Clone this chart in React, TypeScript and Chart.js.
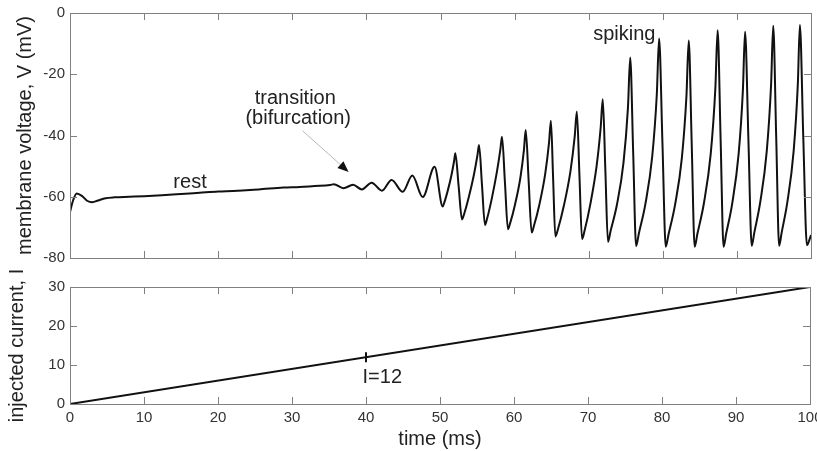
import React, { useEffect, useRef } from 'react';
import { Chart, registerables } from 'chart.js';

Chart.register(...registerables);

// ---------- data ----------
const timeMs = [
  0, 0.4, 0.9, 1.6, 2.3, 3.0, 3.8, 4.8, 6.0, 8.0, 10.0, 12.4, 15.0, 17.5, 20.0, 22.0, 24.3, 26.0,
  28.8, 31.0, 33.0, 35.1, 35.6, 36.9, 38.2, 39.4, 40.7, 42.1, 43.4, 44.9, 46.2, 47.6, 49.2,
  50.3, 50.5, 50.98, 51.49, 51.83, 52.0, 52.45,
  52.9, 53.18, 53.82, 54.51, 54.97, 55.2, 55.6,
  56.0, 56.28, 56.92, 57.61, 58.07, 58.3, 58.7,
  59.1, 59.39, 60.06, 60.78, 61.26, 61.5, 61.9,
  62.3, 62.61, 63.34, 64.12, 64.64, 64.9, 65.2,
  65.5, 65.85, 66.66, 67.53, 68.11, 68.4, 68.75,
  69.1, 69.44, 70.22, 71.06, 71.62, 71.9, 72.25,
  72.6, 72.96, 73.8, 74.7, 75.3, 75.6, 76.0,
  76.4, 76.77, 77.64, 78.57, 79.19, 79.5, 79.95,
  80.4, 80.77, 81.64, 82.57, 83.19, 83.5, 83.9,
  84.3, 84.67, 85.54, 86.47, 87.09, 87.4, 87.8,
  88.2, 88.55, 89.36, 90.23, 90.81, 91.1, 91.55,
  92.0, 92.35, 93.16, 94.03, 94.61, 94.9, 95.3,
  95.7, 96.04, 96.82, 97.66, 98.22, 98.5, 98.95,
  99.45, 100,
];

const voltageMv = [
  -65.0, -61.3, -58.9, -59.7, -61.3, -61.8, -61.2, -60.5, -60.2, -60.0, -59.8, -59.5, -59.1, -58.7, -58.3, -58.1, -57.8, -57.5,
  -57.0, -56.8, -56.5, -56.2, -55.9, -57.2, -56.1, -57.6, -55.4, -58.0, -54.5, -58.4, -53.1, -60.1, -50.2,
  -63.2, -62.0, -58.0, -52.8, -48.4, -45.8, -56.6,
  -67.4, -65.7, -60.1, -52.8, -46.7, -43.1, -56.2,
  -69.2, -67.2, -60.6, -51.9, -44.7, -40.4, -55.5,
  -70.6, -68.7, -62.5, -53.8, -44.7, -38.2, -55.0,
  -71.7, -69.5, -62.6, -52.7, -42.5, -35.2, -54.1,
  -73.0, -70.6, -62.8, -51.8, -40.4, -32.2, -53.0,
  -73.8, -71.1, -62.4, -50.1, -37.3, -28.2, -51.5,
  -74.7, -71.1, -62.7, -48.8, -30.8, -14.5, -45.3,
  -76.1, -72.0, -62.5, -46.9, -26.6, -8.3, -42.3,
  -76.3, -72.3, -62.8, -47.4, -27.2, -9.0, -42.6,
  -76.3, -72.1, -62.2, -45.9, -24.7, -5.6, -41.0,
  -76.3, -72.1, -62.3, -46.1, -25.1, -6.1, -41.0,
  -76.0, -71.7, -61.6, -45.1, -23.6, -4.2, -40.1,
  -76.0, -71.7, -61.6, -45.0, -23.4, -3.9, -39.9,
  -75.8, -72.5,
];

const currentTimeMs = [0, 100];
const currentValues = [0, 30];

const markerTimeMs = [40];
const markerCurrent = [12];

const timeTicks = [0, 10, 20, 30, 40, 50, 60, 70, 80, 90, 100];
const voltageTicks = [-80, -60, -40, -20, 0];
const currentTicks = [0, 10, 20, 30];

// ---------- styling ----------
const FONT = "'Liberation Sans', Arial, Helvetica, sans-serif";
const TEXT = '#222';
const TICK_TEXT = '#333';
const BOX = '#808080';

type Note = { text: string; x: number; y: number };
type Arrow = { x0: number; y0: number; x1: number; y1: number };

const voltageNotes: Note[] = [
  { text: 'rest', x: 16.2, y: -55.5 },
  { text: 'transition', x: 30.4, y: -27.8 },
  { text: '(bifurcation)', x: 30.8, y: -34.6 },
  { text: 'spiking', x: 74.8, y: -6.9 },
];
const voltageArrows: Arrow[] = [{ x0: 31.4, y0: -38.5, x1: 37.6, y1: -51.9 }];
const currentNotes: Note[] = [{ text: 'I=12', x: 42.2, y: 6.7 }];

const boxPlugin = {
  id: 'boxTicks',
  afterDatasetsDraw(chart: any) {
    const { ctx, chartArea: a, scales } = chart;
    const xs = scales.x;
    const ys = scales.y;
    const L = 7;
    ctx.save();
    ctx.strokeStyle = BOX;
    ctx.lineWidth = 1;
    ctx.strokeRect(Math.round(a.left) + 0.5, Math.round(a.top) + 0.5, Math.round(a.right - a.left), Math.round(a.bottom - a.top));
    ctx.beginPath();
    for (const t of xs.ticks) {
      if (t.value <= xs.min || t.value >= xs.max) continue;
      const px = Math.round(xs.getPixelForValue(t.value)) + 0.5;
      ctx.moveTo(px, a.bottom);
      ctx.lineTo(px, a.bottom - L);
      ctx.moveTo(px, a.top);
      ctx.lineTo(px, a.top + L);
    }
    for (const t of ys.ticks) {
      if (t.value <= ys.min || t.value >= ys.max) continue;
      const py = Math.round(ys.getPixelForValue(t.value)) + 0.5;
      ctx.moveTo(a.left, py);
      ctx.lineTo(a.left + L, py);
      ctx.moveTo(a.right, py);
      ctx.lineTo(a.right - L, py);
    }
    ctx.stroke();
    ctx.restore();
  },
};

function notesPlugin(notes: Note[], arrows: Arrow[]) {
  return {
    id: 'notes',
    afterDatasetsDraw(chart: any) {
      const { ctx, scales } = chart;
      const xs = scales.x;
      const ys = scales.y;
      ctx.save();
      ctx.font = `20px ${FONT}`;
      ctx.fillStyle = TEXT;
      ctx.textAlign = 'center';
      ctx.textBaseline = 'middle';
      for (const n of notes) {
        ctx.fillText(n.text, xs.getPixelForValue(n.x), ys.getPixelForValue(n.y));
      }
      for (const ar of arrows) {
        const x0 = xs.getPixelForValue(ar.x0);
        const y0 = ys.getPixelForValue(ar.y0);
        const x1 = xs.getPixelForValue(ar.x1);
        const y1 = ys.getPixelForValue(ar.y1);
        const ang = Math.atan2(y1 - y0, x1 - x0);
        const hl = 11;
        const hw = 4.5;
        const bx = x1 - hl * Math.cos(ang);
        const by = y1 - hl * Math.sin(ang);
        ctx.strokeStyle = '#b8b8b8';
        ctx.lineWidth = 1;
        ctx.beginPath();
        ctx.moveTo(x0, y0);
        ctx.lineTo(bx, by);
        ctx.stroke();
        ctx.fillStyle = '#111';
        ctx.beginPath();
        ctx.moveTo(x1, y1);
        ctx.lineTo(bx + hw * Math.sin(ang), by - hw * Math.cos(ang));
        ctx.lineTo(bx - hw * Math.sin(ang), by + hw * Math.cos(ang));
        ctx.closePath();
        ctx.fill();
      }
      ctx.restore();
    },
  };
}

const setTicks = (vals: number[]) => (s: any) => {
  s.ticks = vals.map((v) => ({ value: v }));
};

function VoltagePanel() {
  const ref = useRef<HTMLCanvasElement>(null);
  useEffect(() => {
    const chart = new Chart(ref.current as HTMLCanvasElement, {
      type: 'line',
      data: {
        datasets: [
          {
            data: timeMs.map((t, i) => ({ x: t, y: voltageMv[i] })),
            borderColor: '#111',
            borderWidth: 2,
            pointRadius: 0,
            cubicInterpolationMode: 'monotone',
            fill: false,
          },
        ],
      },
      options: {
        animation: false,
        responsive: false,
        events: [],
        layout: { padding: { top: 13, right: 6, left: 0, bottom: 0 } },
        plugins: { legend: { display: false }, tooltip: { enabled: false } },
        scales: {
          x: {
            type: 'linear',
            min: 0,
            max: 100,
            afterBuildTicks: setTicks(timeTicks),
            ticks: { display: false },
            grid: { display: false, drawTicks: false },
            border: { display: false },
            afterFit: (s: any) => {
              s.height = 12;
              s.paddingLeft = 0;
              s.paddingRight = 0;
            },
          },
          y: {
            type: 'linear',
            min: -80,
            max: 0,
            afterBuildTicks: setTicks(voltageTicks),
            ticks: { font: { family: FONT, size: 15 }, color: TICK_TEXT, padding: 5 },
            grid: { display: false, drawTicks: false },
            border: { display: false },
            title: {
              display: true,
              text: 'membrane voltage, V (mV)',
              font: { family: FONT, size: 20 },
              color: TEXT,
              padding: { top: 13, bottom: 0 },
            },
            afterFit: (s: any) => {
              s.width = 70;
              s.paddingTop = 0;
              s.paddingBottom = 0;
            },
          },
        },
      },
      plugins: [boxPlugin, notesPlugin(voltageNotes, voltageArrows)],
    } as any);
    return () => chart.destroy();
  }, []);
  return (
    <canvas
      ref={ref}
      width={817}
      height={270}
      style={{ position: 'absolute', left: 0, top: 0, width: 817, height: 270 }}
    />
  );
}

function CurrentPanel() {
  const ref = useRef<HTMLCanvasElement>(null);
  useEffect(() => {
    const chart = new Chart(ref.current as HTMLCanvasElement, {
      type: 'line',
      data: {
        datasets: [
          {
            data: currentTimeMs.map((t, i) => ({ x: t, y: currentValues[i] })),
            borderColor: '#111',
            borderWidth: 2,
            pointRadius: 0,
            fill: false,
          },
          {
            data: markerTimeMs.map((t, i) => ({ x: t, y: markerCurrent[i] })),
            showLine: false,
            pointStyle: 'line',
            rotation: 90,
            pointRadius: 5,
            borderColor: '#111',
            borderWidth: 2,
          },
        ],
      },
      options: {
        animation: false,
        responsive: false,
        events: [],
        layout: { padding: { top: 25, right: 6, left: 0, bottom: 0 } },
        plugins: { legend: { display: false }, tooltip: { enabled: false } },
        scales: {
          x: {
            type: 'linear',
            min: 0,
            max: 100,
            afterBuildTicks: setTicks(timeTicks),
            ticks: { font: { family: FONT, size: 15 }, color: TICK_TEXT, padding: 5, maxRotation: 0, autoSkip: false },
            grid: { display: false, drawTicks: false },
            border: { display: false },
            title: {
              display: true,
              text: 'time (ms)',
              font: { family: FONT, size: 20 },
              color: TEXT,
              padding: { top: 0, bottom: 0 },
            },
            afterFit: (s: any) => {
              s.height = 47;
              s.paddingLeft = 0;
              s.paddingRight = 0;
            },
          },
          y: {
            type: 'linear',
            min: 0,
            max: 30,
            afterBuildTicks: setTicks(currentTicks),
            ticks: { font: { family: FONT, size: 15 }, color: TICK_TEXT, padding: 5 },
            grid: { display: false, drawTicks: false },
            border: { display: false },
            title: {
              display: true,
              text: 'injected current, I',
              font: { family: FONT, size: 20 },
              color: TEXT,
              padding: { top: 5, bottom: 0 },
            },
            afterFit: (s: any) => {
              s.width = 70;
              s.paddingTop = 0;
              s.paddingBottom = 0;
            },
          },
        },
      },
      plugins: [boxPlugin, notesPlugin(currentNotes, [])],
    } as any);
    return () => chart.destroy();
  }, []);
  return (
    <canvas
      ref={ref}
      width={817}
      height={189}
      style={{ position: 'absolute', left: 0, top: 262, width: 817, height: 189 }}
    />
  );
}

export default function App() {
  return (
    <div style={{ position: 'absolute', left: 0, top: 0, width: 817, height: 451, background: '#fff', overflow: 'hidden' }}>
      <VoltagePanel />
      <CurrentPanel />
    </div>
  );
}
